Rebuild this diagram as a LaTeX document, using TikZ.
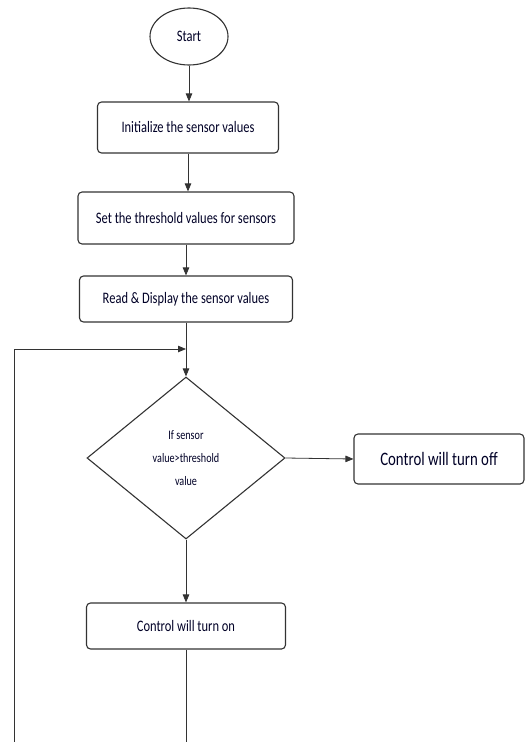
\documentclass[tikz,border=0pt]{standalone}
\usepackage{fontspec}
\setmainfont{Carlito}[FakeStretch=0.78]
\usetikzlibrary{shapes.geometric,arrows.meta}
\begin{document}
\begin{tikzpicture}[x=1pt,y=-1pt,
  line/.style={draw=black!80,line width=0.8pt},
  arr/.style={line,-{Triangle[length=8pt,width=6.5pt]}},
  box/.style={draw=black!80,line width=1.1pt,rounded corners=4pt,rectangle,align=center,
    text=black!85!blue,font=\fontsize{16}{18}\selectfont,inner sep=0pt},
  term/.style={draw=black!80,line width=1.1pt,ellipse,inner sep=0pt,text=black!85!blue,
    font=\fontsize{16}{18}\selectfont},
  dec/.style={draw=black!80,line width=1.1pt,diamond,inner sep=0pt,align=center,
    text=black!85!blue,font=\fontsize{13}{23}\selectfont}]
\useasboundingbox (0,0) rectangle (532,742);
\node[term,minimum width=78pt,minimum height=57pt] (start) at (189,36.5) {Start};
\node[box,minimum width=181pt,minimum height=51pt] (init) at (188,127.5) {Initialize the sensor values};
\node[box,minimum width=216pt,minimum height=52pt] (thr) at (186,218) {Set the threshold values for sensors};
\node[box,minimum width=213pt,minimum height=46pt] (read) at (186,299) {Read \& Display the sensor values};
\node[dec,minimum width=198pt,minimum height=162pt] (cond) at (186,458) {If sensor\\value>threshold\\value};
\node[box,minimum width=170pt,minimum height=50pt,font=\fontsize{19}{21}\selectfont] (off) at (439,459) {Control will turn off};
\node[box,minimum width=199pt,minimum height=46pt] (on) at (186,626) {Control will turn on};
\coordinate (join) at (186,349);
\coordinate (loopbot) at (14,742);
\coordinate (onbot) at (186,742);
\draw[arr] (start.south) -- (start.south |- init.north);
\draw[arr] (init.south) -- (init.south |- thr.north);
\draw[arr] (thr.south) -- (thr.south |- read.north);
\draw[arr] (read.south) -- (cond.north);
\draw[arr] (cond.east) -- (off.west);
\draw[arr] (cond.south) -- (on.north);
\draw[line] (on.south) -- (onbot);
\draw[arr] (loopbot) |- (join);
\end{tikzpicture}
\end{document}
